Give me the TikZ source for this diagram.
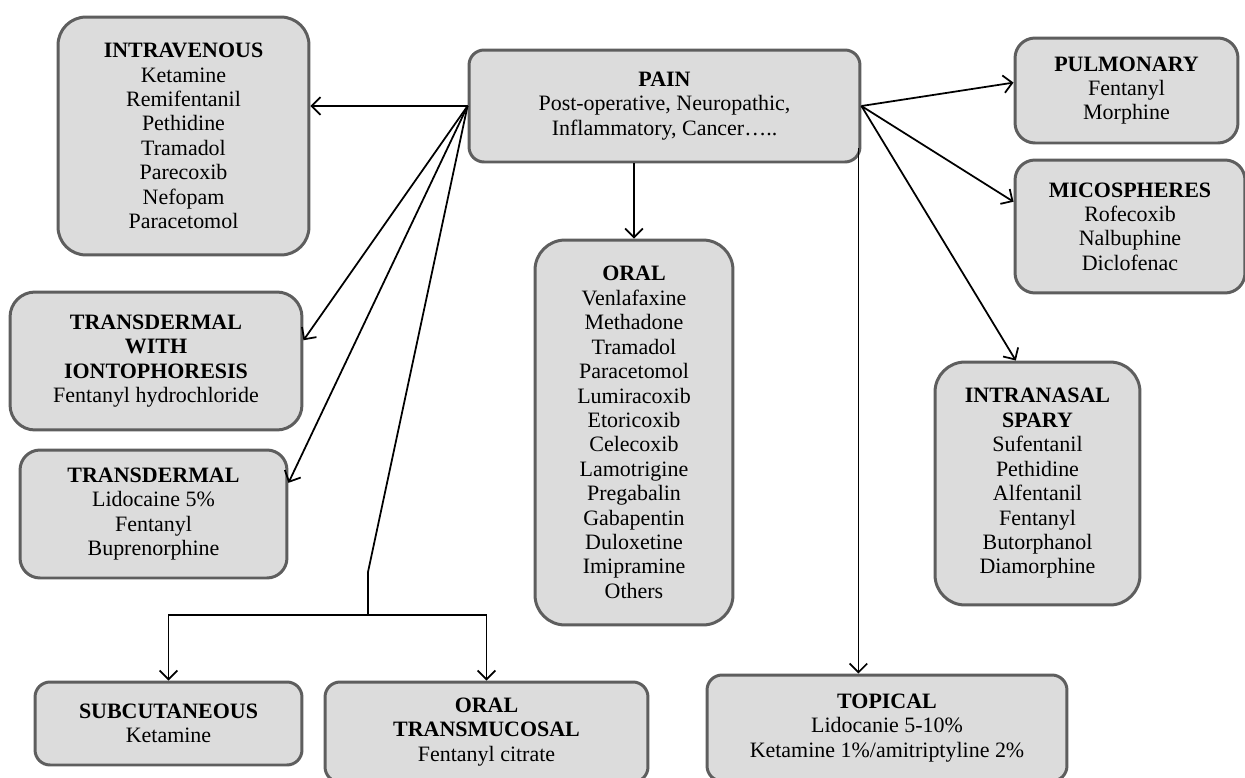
\documentclass[tikz,border=0pt]{standalone}
\usepackage{fontspec}
\setmainfont{Liberation Serif}
\usepackage{tikz}
\usetikzlibrary{arrows, arrows.meta, shapes, positioning}

\definecolor{boxfill}{HTML}{DCDCDC}
\definecolor{boxline}{HTML}{5E5E5E}

\begin{document}
\begin{tikzpicture}[x=0.02cm, y=-0.02cm,
	box/.style={draw=boxline, line width=1.7pt, fill=boxfill, rounded corners=0.4cm,
		align=center, inner sep=0pt, font=\fontsize{12.5}{13.9}\selectfont},
	link/.style={line width=1pt, >={Straight Barb[length=5pt, width=10pt]}}]
	\useasboundingbox (0,0) rectangle (1245,778);

	\node[box, minimum width=7.82cm, minimum height=2.24cm, rounded corners=0.3cm] (pain) at (664.5,106)
		{\textbf{PAIN}\\Post-operative, Neuropathic,\\Inflammatory, Cancer…..};

	%partie gauche
	\node[box, minimum width=5.02cm, minimum height=4.76cm, rounded corners=0.56cm] (intrav) at (183.5,136)
		{\textbf{INTRAVENOUS}\\Ketamine\\Remifentanil\\Pethidine\\Tramadol\\Parecoxib\\Nefopam\\Paracetomol};
	\node[box, minimum width=5.84cm, minimum height=2.76cm, rounded corners=0.5cm] (tdiont) at (156,361)
		{\textbf{TRANSDERMAL}\\\textbf{WITH}\\\textbf{IONTOPHORESIS}\\Fentanyl hydrochloride};
	\node[box, minimum width=5.34cm, minimum height=2.56cm] (tderm) at (153.5,514)
		{\textbf{TRANSDERMAL}\\Lidocaine 5\%\\Fentanyl\\Buprenorphine};
	\node[box, minimum width=5.34cm, minimum height=1.66cm, rounded corners=0.3cm] (subcut) at (168.5,723.5)
		{\textbf{SUBCUTANEOUS}\\Ketamine};
	\node[box, minimum width=6.46cm, minimum height=2cm, rounded corners=0.3cm] (transmuc) at (486.5,732)
		{\textbf{ORAL}\\\textbf{TRANSMUCOSAL}\\Fentanyl citrate};

	%milieu
	\node[box, minimum width=3.96cm, minimum height=7.7cm, rounded corners=0.6cm] (oral) at (634,432.5)
		{\textbf{ORAL}\\Venlafaxine\\Methadone\\Tramadol\\Paracetomol\\Lumiracoxib\\Etoricoxib\\Celecoxib\\Lamotrigine\\Pregabalin\\Gabapentin\\Duloxetine\\Imipramine\\Others};
	\node[box, minimum width=7.2cm, minimum height=2.12cm, rounded corners=0.3cm] (topical) at (887,728)
		{\textbf{TOPICAL}\\Lidocanie 5-10\%\\Ketamine 1\%/amitriptyline 2\%};

	%partie droite
	\node[box, minimum width=4.46cm, minimum height=2.1cm] (pulm) at (1126.5,90.5)
		{\textbf{PULMONARY}\\Fentanyl\\Morphine};
	\node[box, minimum width=4.6cm, minimum height=2.66cm] (micro) at (1130,226.5)
		{\textbf{MICOSPHERES}\\Rofecoxib\\Nalbuphine\\Diclofenac};
	\node[box, minimum width=4.1cm, minimum height=4.86cm, rounded corners=0.6cm] (nasal) at (1037.5,483.5)
		{\textbf{INTRANASAL}\\\textbf{SPARY}\\Sufentanil\\Pethidine\\Alfentanil\\Fentanyl\\Butorphanol\\Diamorphine};

	\coordinate (bend) at (368,572);
	\coordinate (split) at (368,615);
	\coordinate (drop) at ([xshift=-0.06cm, yshift=0.3cm]pain.south east);

	\draw[link, ->] (pain.west) to (pain.west -| intrav.east);
	\draw[link, ->] (pain.west) to (tdiont.8);
	\draw[link, ->] (pain.west) to (tderm.13);
	\draw[link] (pain.west) to (bend) to (split);
	\draw[link, ->] (split) -| (subcut.north);
	\draw[link, ->] (split) -| (transmuc.north);

	\draw[link, ->] (oral.north |- pain.south) to (oral.north);
	\draw[link, ->] (drop) to (drop |- topical.north);

	\draw[link, ->] (pain.east) to (pulm.176);
	\draw[link, ->] (pain.east) to (micro.168);
	\draw[link, ->] (pain.east) to (nasal.100);
\end{tikzpicture}
\end{document}
